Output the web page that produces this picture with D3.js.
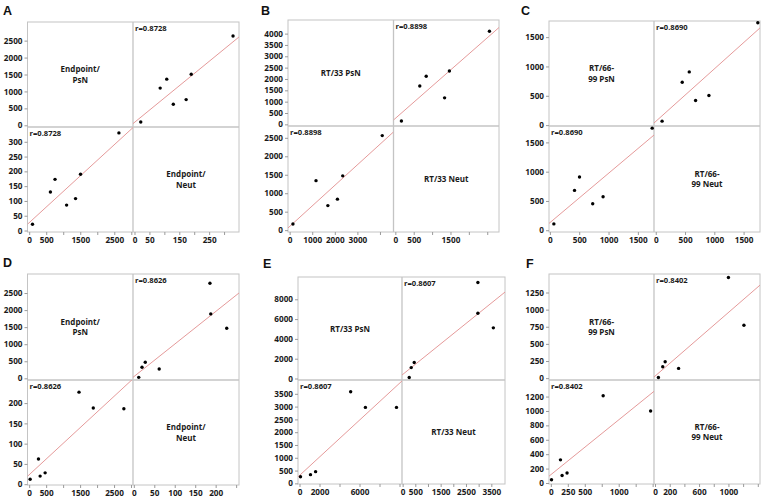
<!DOCTYPE html>
<html><head><meta charset="utf-8">
<script src="https://cdn.jsdelivr.net/npm/d3@7"></script>
<style>
html,body{margin:0;padding:0;background:#fff;}
svg{display:block;font-family:"Open Sans","Liberation Sans",Arial,sans-serif;}
</style></head>
<body><svg id="chart" width="762" height="502"></svg>
<script>
// ---------- data (PsN, Neut pairs per panel) ----------
const panelIds = ["A","B","C","D","E","F"];
const psnA  = [97, 623, 759, 1099, 1362, 1508, 2636];
const neutA = [21, 130, 173, 86, 108, 190, 330];
const psnB  = [146, 1168, 1693, 2117, 2350, 4102];
const neutB = [165, 1340, 665, 840, 1470, 2560];
const psnC  = [68, 420, 505, 730, 907, 1744];
const neutC = [108, 680, 908, 452, 572, 1743];
const psnD  = [29, 274, 323, 470, 1468, 1888, 2789];
const neutD = [12, 62, 20, 28, 227, 188, 186];
const psnE  = [100, 1100, 1610, 5117, 6590, 9700];
const neutE = [260, 340, 458, 3580, 2970, 2970];
const psnF  = [10, 142, 166, 239, 771, 1470];
const neutF = [46, 321, 105, 138, 1211, 1000];
const rLabels = ["r=0.8728","r=0.8898","r=0.8690","r=0.8626","r=0.8607","r=0.8402"];
const psnNames  = [["Endpoint/","PsN"],["RT/33 PsN"],["RT/66-","99 PsN"],["Endpoint/","PsN"],["RT/33 PsN"],["RT/66-","99 PsN"]];
const neutNames = [["Endpoint/","Neut"],["RT/33 Neut"],["RT/66-","99 Neut"],["Endpoint/","Neut"],["RT/33 Neut"],["RT/66-","99 Neut"]];
// tick values: all ticks, and the labelled subset
const psnXTicks  = [[0,500,1000,1500,2000,2500,3000],[0,1000,2000,3000,4000],[0,500,1000,1500],[0,500,1000,1500,2000,2500,3000],[0,2000,4000,6000,8000,10000],[0,250,500,750,1000,1250,1500]];
const psnXLabels = [[0,500,1500,2500],[0,1000,2000,3000],[0,500,1000,1500],[0,500,1500,2500],[0,2000,6000],[0,250,500,1000]];
const psnYTicks  = [[0,500,1000,1500,2000,2500],[0,500,1000,1500,2000,2500,3000,3500,4000],[0,500,1000,1500],[0,500,1000,1500,2000,2500],[0,2000,4000,6000,8000],[0,250,500,750,1000,1250]];
const neutXTicks  = [[0,50,100,150,200,250,300],[0,500,1000,1500,2000,2500],[0,500,1000,1500],[0,50,100,150,200,250],[0,500,1000,1500,2000,2500,3000,3500],[0,200,400,600,800,1000,1200,1400]];
const neutXLabels = [[0,50,150,250],[0,500,1500],[0,500,1000,1500],[0,50,100,150,200],[0,500,1500,2500,3500],[0,200,600,1000]];
const neutYTicks  = [[0,50,100,150,200,250,300],[0,500,1000,1500,2000,2500],[0,500,1000,1500],[0,50,100,150,200],[0,500,1000,1500,2000,2500,3000,3500],[0,200,400,600,800,1000,1200]];
const psnDomains  = [[-50,3050],[-73,4600],[-15,1775],[-49,3058],[-150,10250],[-27,1520]];
const neutDomains = [[-5,350],[-50,2820],[-30,1780],[-2,257],[-25,4040],[-14,1430]];

// ---------- layout ----------
const layout = [
  {l:27.5,r:239,t:22,b:232,mx:133,my:127, lx:3, ly:15},
  {l:288,r:499,t:20,b:232,mx:393.5,my:126, lx:261, ly:15},
  {l:549,r:760,t:21,b:232,mx:654,my:126, lx:521, ly:15},
  {l:27.5,r:239,t:274,b:485,mx:133,my:380, lx:3, ly:267},
  {l:298,r:505,t:277,b:484,mx:402,my:380, lx:263, ly:268},
  {l:549,r:760,t:274,b:484,mx:654,my:380, lx:526, ly:268}
];
const psnAll = [psnA,psnB,psnC,psnD,psnE,psnF];
const neutAll = [neutA,neutB,neutC,neutD,neutE,neutF];

const svg = d3.select("#chart");
const frameCol = "#c4c4c4", tickCol = "#9a9a9a", textCol = "#1a1a1a", lineCol = "#e59a9a";

function regress(xs, ys){
  const mx = d3.mean(xs), my = d3.mean(ys);
  let sxy=0, sxx=0;
  xs.forEach((x,i)=>{ sxy += (x-mx)*(ys[i]-my); sxx += (x-mx)*(x-mx); });
  const b = sxy/sxx; return {a: my - b*mx, b};
}

panelIds.forEach((id, k) => {
  const L = layout[k];
  const psn = psnAll[k], neut = neutAll[k];
  const g = svg.append("g");
  // scales
  const xPsn  = d3.scaleLinear().domain(psnDomains[k]).range([L.l, L.mx]);   // bottom-left x
  const yNeut = d3.scaleLinear().domain(neutDomains[k]).range([L.b, L.my]);  // bottom-left y
  const xNeut = d3.scaleLinear().domain(neutDomains[k]).range([L.mx, L.r]);  // top-right x
  const yPsn  = d3.scaleLinear().domain(psnDomains[k]).range([L.my, L.t]);   // top-right y

  // clip paths
  const cidBL = "clipBL"+id, cidTR = "clipTR"+id;
  const defs = g.append("defs");
  defs.append("clipPath").attr("id",cidBL).append("rect").attr("x",L.l).attr("y",L.my).attr("width",L.mx-L.l).attr("height",L.b-L.my);
  defs.append("clipPath").attr("id",cidTR).append("rect").attr("x",L.mx).attr("y",L.t).attr("width",L.r-L.mx).attr("height",L.my-L.t);

  // frame
  g.append("rect").attr("x",L.l).attr("y",L.t).attr("width",L.r-L.l).attr("height",L.b-L.t)
    .attr("fill","none").attr("stroke",frameCol).attr("stroke-width",1);
  g.append("line").attr("x1",L.mx).attr("x2",L.mx).attr("y1",L.t).attr("y2",L.b).attr("stroke",frameCol).attr("stroke-width",1.3);
  g.append("line").attr("x1",L.l).attr("x2",L.r).attr("y1",L.my).attr("y2",L.my).attr("stroke",frameCol).attr("stroke-width",1.6);

  // axes
  function styleAxis(sel){
    sel.select(".domain").remove();
    sel.selectAll(".tick line").attr("stroke",tickCol);
    sel.selectAll(".tick text").attr("fill",textCol).attr("font-size","8.2px").attr("font-weight","700").attr("font-family","'Open Sans',Arial,sans-serif");
  }
  const fmtX = labels => d => labels.includes(d) ? String(d) : "";
  g.append("g").attr("transform",`translate(0,${L.b})`)
    .call(d3.axisBottom(xPsn).tickValues(psnXTicks[k]).tickFormat(fmtX(psnXLabels[k])).tickSize(3).tickPadding(2))
    .call(styleAxis);
  g.append("g").attr("transform",`translate(0,${L.b})`)
    .call(d3.axisBottom(xNeut).tickValues(neutXTicks[k]).tickFormat(fmtX(neutXLabels[k])).tickSize(3).tickPadding(2))
    .call(styleAxis);
  g.append("g").attr("transform",`translate(${L.l},0)`)
    .call(d3.axisLeft(yPsn).tickValues(psnYTicks[k]).tickFormat(d3.format("d")).tickSize(3).tickPadding(2))
    .call(styleAxis);
  g.append("g").attr("transform",`translate(${L.l},0)`)
    .call(d3.axisLeft(yNeut).tickValues(neutYTicks[k]).tickFormat(d3.format("d")).tickSize(3).tickPadding(2))
    .call(styleAxis);

  // regression lines
  const rBL = regress(psn, neut), rTR = regress(neut, psn);
  const dp = psnDomains[k], dn = neutDomains[k];
  g.append("line").attr("clip-path",`url(#${cidBL})`)
    .attr("x1",xPsn(dp[0])).attr("y1",yNeut(rBL.a + rBL.b*dp[0]))
    .attr("x2",xPsn(dp[1])).attr("y2",yNeut(rBL.a + rBL.b*dp[1]))
    .attr("stroke",lineCol).attr("stroke-width",1);
  g.append("line").attr("clip-path",`url(#${cidTR})`)
    .attr("x1",xNeut(dn[0])).attr("y1",yPsn(rTR.a + rTR.b*dn[0]))
    .attr("x2",xNeut(dn[1])).attr("y2",yPsn(rTR.a + rTR.b*dn[1]))
    .attr("stroke",lineCol).attr("stroke-width",1);

  // points
  const pts = psn.map((p,i)=>({p, n: neut[i]}));
  g.append("g").selectAll("circle").data(pts).join("circle")
    .attr("cx",d=>xPsn(d.p)).attr("cy",d=>yNeut(d.n)).attr("r",1.7).attr("fill","#000");
  g.append("g").selectAll("circle").data(pts).join("circle")
    .attr("cx",d=>xNeut(d.n)).attr("cy",d=>yPsn(d.p)).attr("r",1.7).attr("fill","#000");

  // r labels
  g.append("text").attr("x",L.mx+2).attr("y",L.t+8.5).text(rLabels[k])
    .attr("font-size","7.6px").attr("font-weight","700").attr("fill",textCol);
  g.append("text").attr("x",L.l+2).attr("y",L.my+8.5).text(rLabels[k])
    .attr("font-size","7.6px").attr("font-weight","700").attr("fill",textCol);

  // diagonal names
  function names(lines, cx, cy){
    const lh = 10.5, n = lines.length;
    lines.forEach((s,i)=>{
      g.append("text").attr("x",cx).attr("y",cy + (i-(n-1)/2)*lh + 3).attr("text-anchor","middle")
        .attr("font-size","8px").attr("font-weight","700").attr("fill",textCol).text(s);
    });
  }
  names(psnNames[k], (L.l+L.mx)/2, (L.t+L.my)/2);
  names(neutNames[k], (L.mx+L.r)/2, (L.my+L.b)/2);

  // panel letter
  g.append("text").attr("x",L.lx).attr("y",L.ly).text(id)
    .attr("font-size","12.5px").attr("font-weight","700").attr("fill","#111")
    .attr("font-family","'Liberation Sans',Arial,sans-serif");
});
</script>
</body></html>
